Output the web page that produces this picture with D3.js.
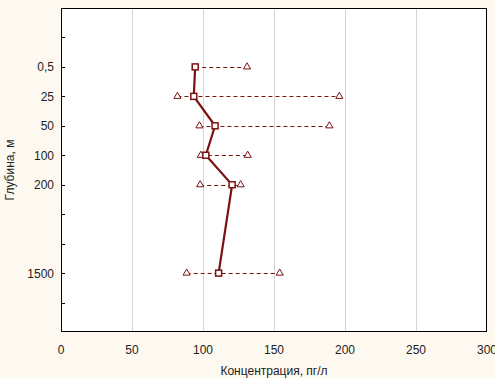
<!DOCTYPE html>
<html><head><meta charset="utf-8">
<script src="https://cdn.jsdelivr.net/npm/d3@7"></script>
<style>
html,body{margin:0;padding:0;background:#fdf9f0;}
svg{display:block;}
text{font-family:"Liberation Sans",Arial,sans-serif;}
</style></head>
<body>
<svg id="c" width="495" height="378"></svg>
<script>
const slots = ["s1","0,5","25","50","100","200","s7","s8","1500","s10"];
const tickLabels = ["","0,5","25","50","100","200","","","1500",""];
const depths = ["0,5","25","50","100","200","1500"];
const meanVals = [94.5, 93.5, 108.5, 102, 120.5, 111];
const lowVals = [94.5, 82, 97.5, 98.5, 98, 88.5];
const highVals = [131, 196, 189, 131.5, 126.5, 154];
const xTicks = [0,50,100,150,200,250,300];

const svg = d3.select("#c");
const L=61, R=487, T=8, B=332;
const x = d3.scaleLinear().domain([0,300]).range([L,R]);
const y = d3.scalePoint().domain(slots).range([T,B]).padding(1);
const col = "#7a1212";

svg.append("rect").attr("x",L).attr("y",T).attr("width",R-L).attr("height",B-T).attr("fill","#fff");

// grid
svg.append("g").selectAll("line").data(xTicks.filter(d=>d>0&&d<300)).join("line")
  .attr("x1",d=>x(d)+0.5).attr("x2",d=>x(d)+0.5).attr("y1",T).attr("y2",B)
  .attr("stroke","#d4d4d4").attr("stroke-width",1);

// x axis labels
svg.append("g").selectAll("text").data(xTicks).join("text")
  .attr("x",d=>x(d)).attr("y",354).attr("text-anchor","middle")
  .attr("font-size",12).attr("fill","#222").text(d=>d);

// y ticks (inside)
svg.append("g").selectAll("line").data(slots).join("line")
  .attr("x1",L).attr("x2",L+4).attr("y1",d=>Math.round(y(d))+0.5).attr("y2",d=>Math.round(y(d))+0.5)
  .attr("stroke","#000");
svg.append("g").selectAll("text").data(slots).join("text")
  .attr("x",54).attr("y",d=>y(d)+4.5).attr("text-anchor","end")
  .attr("font-size",12).attr("fill","#222").text((d,i)=>tickLabels[i]);

// frame
svg.append("rect").attr("x",L+0.5).attr("y",T+0.5).attr("width",R-L-1).attr("height",B-T-1)
  .attr("fill","none").attr("stroke","#000");

// titles
svg.append("text").attr("x",(L+R)/2).attr("y",375).attr("text-anchor","middle")
  .attr("font-size",12).attr("fill","#222").text("Концентрация, пг/л");
svg.append("text").attr("transform","translate(14,170) rotate(-90)").attr("text-anchor","middle")
  .attr("font-size",12).attr("fill","#222").text("Глубина, м");

const rows = depths.map((d,i)=>({d, m:meanVals[i], lo:lowVals[i], hi:highVals[i]}));

// dashed range
svg.append("g").selectAll("line").data(rows).join("line")
  .attr("x1",r=>x(r.lo)).attr("x2",r=>x(r.hi))
  .attr("y1",r=>Math.round(y(r.d))+0.5).attr("y2",r=>Math.round(y(r.d))+0.5)
  .attr("stroke",col).attr("stroke-width",1).attr("stroke-dasharray","4,3");

// mean line
svg.append("path").datum(rows)
  .attr("d",d3.line().x(r=>x(r.m)).y(r=>y(r.d)))
  .attr("fill","none").attr("stroke",col).attr("stroke-width",2.2);

// triangles
const tri = d3.symbol().type(d3.symbolTriangle).size(22);
const triPts = [];
rows.forEach(r=>{ if(r.lo!==r.m) triPts.push({v:r.lo,d:r.d}); triPts.push({v:r.hi,d:r.d}); });
svg.append("g").selectAll("path").data(triPts).join("path")
  .attr("d",tri).attr("transform",p=>`translate(${x(p.v)},${y(p.d)})`)
  .attr("fill","#fff").attr("stroke",col).attr("stroke-width",1);

// squares
svg.append("g").selectAll("rect").data(rows).join("rect")
  .attr("x",r=>x(r.m)-3).attr("y",r=>y(r.d)-3).attr("width",6).attr("height",6)
  .attr("fill","#fff").attr("stroke",col).attr("stroke-width",1.5);
</script>
</body></html>
